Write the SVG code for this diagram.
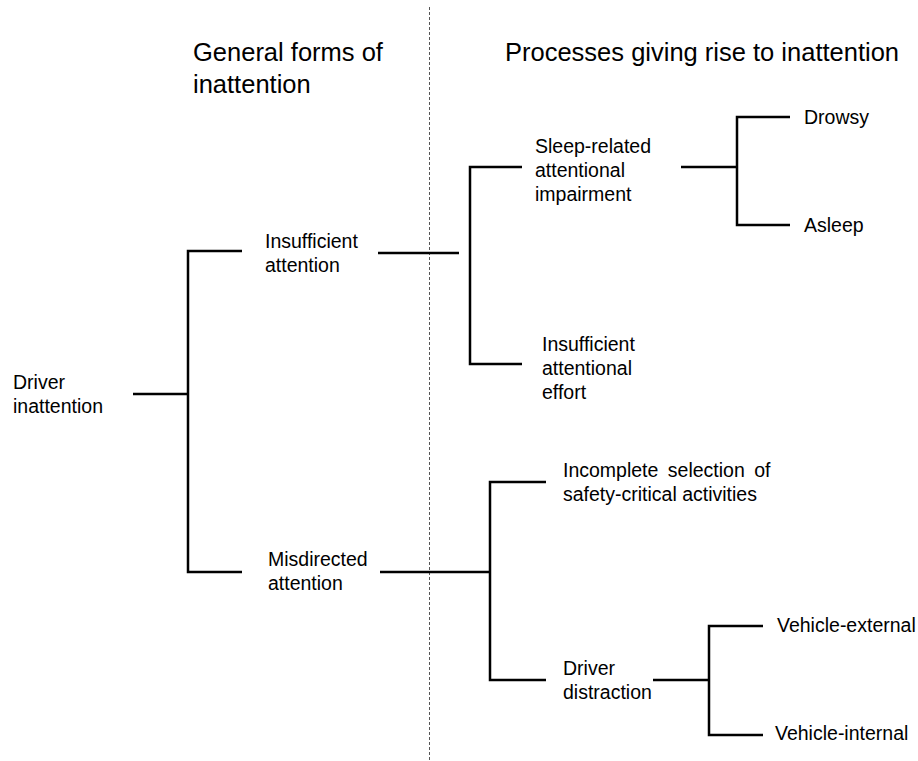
<svg xmlns="http://www.w3.org/2000/svg" width="918" height="761" viewBox="0 0 918 761">
<style>
  text { font-family: "Liberation Sans", Arial, sans-serif; fill: #000; }
  .t { font-size: 25.5px; }
  .b { font-size: 19.5px; }
  .c { fill: none; stroke: #000; stroke-width: 2.5; stroke-linecap: butt; stroke-linejoin: miter; }
  .d { fill: none; stroke: #555; stroke-width: 1; stroke-dasharray: 3 2; }
</style>
<rect width="918" height="761" fill="#fff"/>
<line id="divider" class="d" x1="429.5" y1="7" x2="429.5" y2="761"/>
<g id="title-general">
  <text class="t" x="193" y="61">General forms of</text>
  <text class="t" x="193" y="93">inattention</text>
</g>
<g id="title-processes">
  <text class="t" x="505" y="61">Processes giving rise to inattention</text>
</g>
<g id="connectors">
  <path class="c" d="M133,394 H188 M242,251 H188 V572 H242"/>
  <path class="c" d="M378,253 H459 M522,167 H470 V364 H522"/>
  <path class="c" d="M681,167 H737 M790,117 H737 V225 H790"/>
  <path class="c" d="M380,572 H490 M546,482 H490 V680 H546"/>
  <path class="c" d="M653,680 H709 M763,626 H709 V735 H763"/>
</g>
<g id="driver-inattention">
  <text class="b" x="13" y="389">Driver</text>
  <text class="b" x="13" y="413">inattention</text>
</g>
<g id="insufficient-attention">
  <text class="b" x="265" y="248">Insufficient</text>
  <text class="b" x="265" y="272">attention</text>
</g>
<g id="misdirected-attention">
  <text class="b" x="268" y="566">Misdirected</text>
  <text class="b" x="268" y="590">attention</text>
</g>
<g id="sleep-related">
  <text class="b" x="535" y="153">Sleep-related</text>
  <text class="b" x="535" y="177">attentional</text>
  <text class="b" x="535" y="201">impairment</text>
</g>
<g id="insufficient-effort">
  <text class="b" x="542" y="351">Insufficient</text>
  <text class="b" x="542" y="375">attentional</text>
  <text class="b" x="542" y="399">effort</text>
</g>
<g id="drowsy">
  <text class="b" x="804" y="124">Drowsy</text>
</g>
<g id="asleep">
  <text class="b" x="804" y="232">Asleep</text>
</g>
<g id="incomplete-selection">
  <text class="b" x="563" y="477" word-spacing="4">Incomplete selection of</text>
  <text class="b" x="563" y="501">safety-critical activities</text>
</g>
<g id="driver-distraction">
  <text class="b" x="563" y="675">Driver</text>
  <text class="b" x="563" y="699">distraction</text>
</g>
<g id="vehicle-external">
  <text class="b" x="777" y="632">Vehicle-external</text>
</g>
<g id="vehicle-internal">
  <text class="b" x="775" y="740">Vehicle-internal</text>
</g>
</svg>
